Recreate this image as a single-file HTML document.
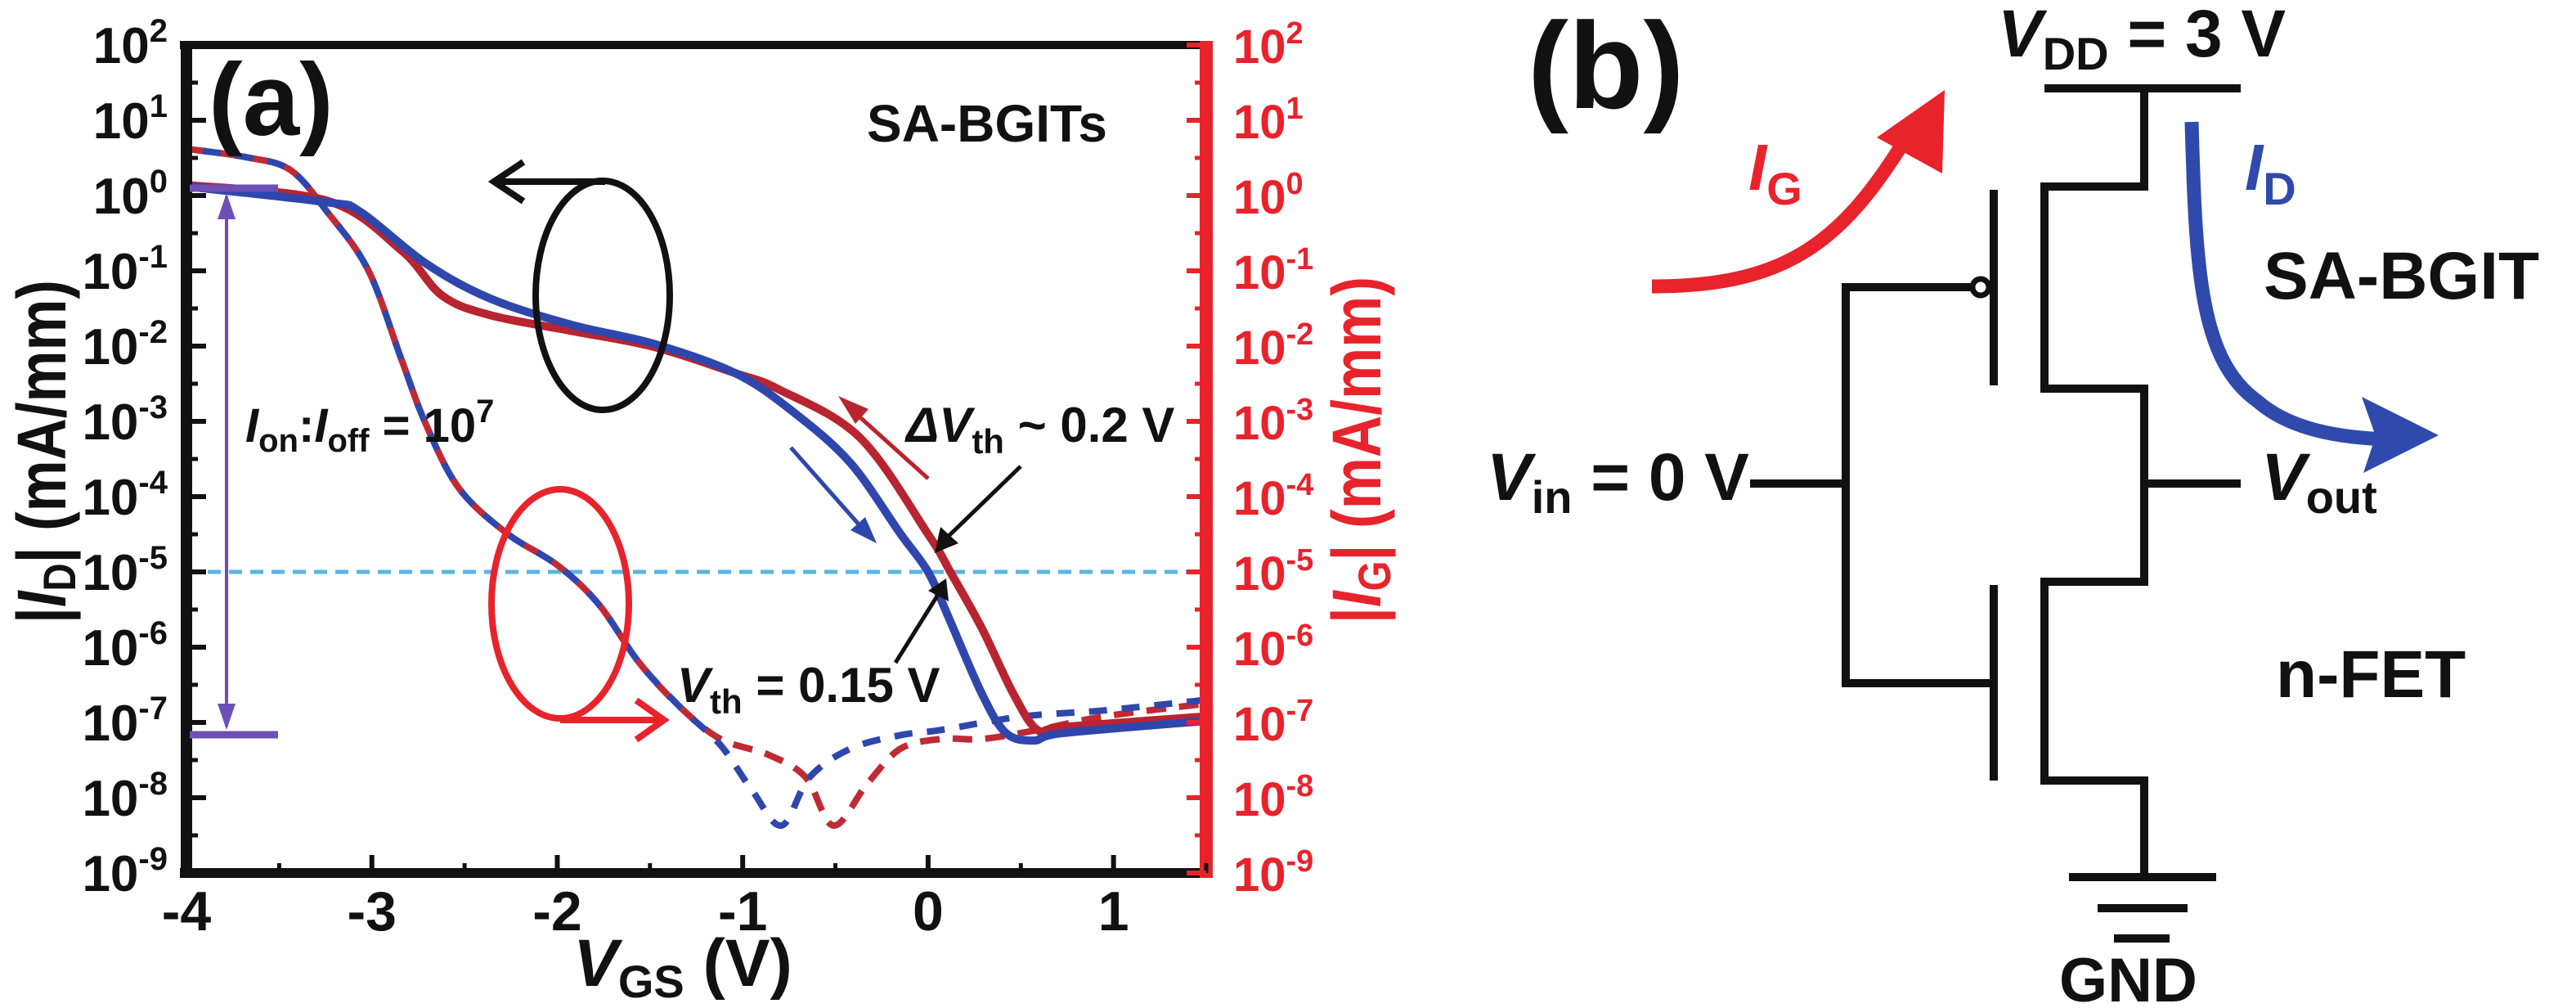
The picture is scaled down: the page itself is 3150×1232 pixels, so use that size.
<!DOCTYPE html>
<html><head><meta charset="utf-8"><style>
html,body{margin:0;padding:0;background:#fff;}
svg{display:block;font-family:"Liberation Sans",sans-serif;font-weight:bold;}
</style></head><body>
<svg id="fig" width="3150" height="1232" viewBox="0 0 3150 1232" xmlns="http://www.w3.org/2000/svg">
<g id="panelA"></g>
<g id="panelB" stroke="#111" stroke-width="10" fill="none">
  <text x="1868" y="132" font-size="150" fill="#111" stroke="none">(b)</text>
  <line x1="2500" y1="108" x2="2740" y2="108"/>
  <polyline points="2622,108 2622,228 2500,228 2500,475 2622,475 2622,711 2500,711 2500,954 2622,954 2622,1072"/>
  <line x1="2530" y1="1072" x2="2710" y2="1072"/>
  <line x1="2565" y1="1110" x2="2675" y2="1110"/>
  <line x1="2585" y1="1147" x2="2653" y2="1147"/>
  <line x1="2438" y1="232" x2="2438" y2="471"/>
  <line x1="2438" y1="715" x2="2438" y2="954"/>
  <polyline points="2410,351 2257,351 2257,835 2438,835"/>
  <circle cx="2422" cy="351" r="10" stroke-width="7"/>
  <line x1="2140" y1="591" x2="2257" y2="591"/>
  <line x1="2622" y1="591" x2="2740" y2="591"/>
  <path d="M2020,350 C2180,350 2250,300 2330,170" stroke="#e8232b" stroke-width="17"/>
  <polygon points="2378,110 2295,168 2375,212" fill="#e8232b" stroke="none"/>
  <path d="M2680,149 C2685,330 2690,440 2760,490 C2800,525 2860,535 2920,537" stroke="#2f4aac" stroke-width="17"/>
  <polygon points="2982,532 2888,485 2905,533 2890,578" fill="#2f4aac" stroke="none"/>
  <g stroke="none" fill="#111">
    <text x="2443" y="69" font-size="82"><tspan font-style="italic">V</tspan><tspan font-size="56" dy="16">DD</tspan><tspan dy="-16"> = 3 V</tspan></text>
    <text x="1818" y="611" font-size="82"><tspan font-style="italic">V</tspan><tspan font-size="56" dy="16">in</tspan><tspan dy="-16"> = 0 V</tspan></text>
    <text x="2765" y="611" font-size="82"><tspan font-style="italic">V</tspan><tspan font-size="56" dy="16">out</tspan></text>
    <text x="2768" y="365" font-size="82">SA-BGIT</text>
    <text x="2783" y="852" font-size="82">n-FET</text>
    <text x="2518" y="1224" font-size="76">GND</text>
    <text x="2138" y="232" font-size="80" fill="#e8232b"><tspan font-style="italic">I</tspan><tspan font-size="56" dy="18">G</tspan></text>
    <text x="2745" y="232" font-size="80" fill="#2f4aac"><tspan font-style="italic">I</tspan><tspan font-size="56" dy="18">D</tspan></text>
  </g>
</g>
</svg>
<script>
// ---- chart data ----
const vBlueSolid = [-4,-3.24,-3.06,-2.71,-2.36,-1.92,-1.48,-1.04,-0.73,-0.42,-0.15,0,0.11,0.29,0.42,0.57,0.73,1.5];
const logBlueSolid = [0.12,-0.09,-0.22,-0.9,-1.37,-1.72,-1.97,-2.36,-2.87,-3.55,-4.49,-5.0,-5.6,-6.62,-7.14,-7.24,-7.14,-6.98];
const vRedSolid = [-4,-3.24,-2.84,-2.62,-2.36,-1.92,-1.48,-1.04,-0.81,-0.37,0,0.12,0.29,0.46,0.59,0.73,1.5];
const logRedSolid = [0.14,-0.07,-0.73,-1.33,-1.59,-1.8,-2.01,-2.36,-2.57,-3.21,-4.5,-5.0,-5.75,-6.62,-7.1,-7.06,-6.92];
const vBlueDash = [-4,-3.68,-3.44,-3.24,-3.02,-2.84,-2.71,-2.53,-2.27,-2.0,-1.78,-1.56,-1.34,-1.12,-0.95,-0.79,-0.64,-0.42,-0.15,0.07,0.51,0.95,1.5];
const logBlueDash = [0.62,0.51,0.34,-0.22,-0.99,-2.18,-3.03,-3.89,-4.49,-4.91,-5.42,-6.2,-6.79,-7.3,-7.9,-8.37,-7.73,-7.35,-7.17,-7.1,-6.92,-6.84,-6.7];
const vRedDash = [-4,-3.68,-3.44,-3.24,-3.02,-2.84,-2.71,-2.53,-2.27,-2.0,-1.78,-1.56,-1.34,-1.12,-0.86,-0.66,-0.51,-0.33,-0.15,0.07,0.29,0.59,0.95,1.5];
const logRedDash = [0.62,0.51,0.34,-0.22,-0.99,-2.18,-3.03,-3.89,-4.49,-4.91,-5.42,-6.2,-6.79,-7.22,-7.43,-7.73,-8.37,-7.82,-7.35,-7.22,-7.22,-7.1,-6.92,-6.75];
const xTicks = [-4,-3,-2,-1,0,1];
const yDecades = [2,1,0,-1,-2,-3,-4,-5,-6,-7,-8,-9];
// ---- axes ----
const X0=228, X1=1475, Y0=55, Y1=1067, XMIN=-4, XMAX=1.5, LMAX=2, LMIN=-9;
function sx(v){return X0+(v-XMIN)/(XMAX-XMIN)*(X1-X0);}
function sy(l){return Y0+(LMAX-l)/(LMAX-LMIN)*(Y1-Y0);}
const NS="http://www.w3.org/2000/svg";
const g=document.getElementById('panelA');
function mk(tag,attrs,parent){const e=document.createElementNS(NS,tag);for(const k in attrs)e.setAttribute(k,attrs[k]);(parent||g).appendChild(e);return e;}
function smooth(vs,ls){const p=vs.map((v,i)=>[sx(v),sy(ls[i])]);let d='M'+p[0][0]+','+p[0][1];
 for(let i=0;i<p.length-1;i++){const p0=p[Math.max(0,i-1)],p1=p[i],p2=p[i+1],p3=p[Math.min(p.length-1,i+2)];
 const c1=[p1[0]+(p2[0]-p0[0])/6,p1[1]+(p2[1]-p0[1])/6],c2=[p2[0]-(p3[0]-p1[0])/6,p2[1]-(p3[1]-p1[1])/6];
 d+=' C'+c1[0].toFixed(1)+','+c1[1].toFixed(1)+' '+c2[0].toFixed(1)+','+c2[1].toFixed(1)+' '+p2[0].toFixed(1)+','+p2[1].toFixed(1);}return d;}
let e=mk('line',{x1:X0,x2:X1,y1:sy(-5),y2:sy(-5),stroke:'#5ab4e6','stroke-width':5,'stroke-dasharray':'16 10'});


e=mk('path',{d:smooth(vRedDash,logRedDash),fill:'none',stroke:'#c02a35','stroke-width':8,'stroke-dasharray':'24 16'});


e=mk('path',{d:smooth(vBlueDash,logBlueDash),fill:'none',stroke:'#2f46ad','stroke-width':8,'stroke-dasharray':'22 18','stroke-dashoffset':20});


e=mk('path',{d:smooth(vRedSolid,logRedSolid),fill:'none',stroke:'#b8242f','stroke-width':10});


e=mk('path',{d:smooth(vBlueSolid,logBlueSolid),fill:'none',stroke:'#2f46ad','stroke-width':10});


e=mk('line',{x1:X0-8,x2:X1,y1:Y0,y2:Y0,stroke:'#111','stroke-width':10});


e=mk('line',{x1:X0-8,x2:X1,y1:Y1,y2:Y1,stroke:'#111','stroke-width':12});


e=mk('line',{x1:X0,x2:X0,y1:Y0-5,y2:Y1+6,stroke:'#111','stroke-width':14});


e=mk('line',{x1:X1,x2:X1,y1:Y0-5,y2:Y1+6,stroke:'#e8232b','stroke-width':16});


xTicks.forEach(v=>{
 let t=mk('line',{x1:sx(v),x2:sx(v),y1:Y1,y2:Y1-22,stroke:'#111','stroke-width':6});
 
 
 t=mk('line',{x1:sx(v+0.5),x2:sx(v+0.5),y1:Y1,y2:Y1-12,stroke:'#111','stroke-width':5});
 
 
 const l=mk('text',{x:sx(v),y:1137,'font-size':68,'text-anchor':'middle',fill:'#111'});
 l.textContent=String(v);
 
 
});
yDecades.forEach(d=>{
 let t=mk('line',{x1:X0,x2:X0+24,y1:sy(d),y2:sy(d),stroke:'#111','stroke-width':6});
 
 
 t=mk('line',{x1:X1,x2:X1-24,y1:sy(d),y2:sy(d),stroke:'#e8232b','stroke-width':6});
 
 
 if(d>LMIN){const m=sy(d-0.5);
  t=mk('line',{x1:X0,x2:X0+14,y1:m,y2:m,stroke:'#111','stroke-width':5});
  
  
  t=mk('line',{x1:X1,x2:X1-14,y1:m,y2:m,stroke:'#e8232b','stroke-width':5});
  
  }
 const y=sy(d)+22;
 let l=mk('text',{x:205,y:y,'font-size':62,'text-anchor':'end',fill:'#111'});
 l.innerHTML='10<tspan font-size="40" dy="-26">'+d+'</tspan>';
 
 
 l=mk('text',{x:1508,y:y,'font-size':58,fill:'#e8232b'});
 l.innerHTML='10<tspan font-size="38" dy="-24">'+d+'</tspan>';
 
 
});
</script>
<script>
const A=document.getElementById('panelA');
A.insertAdjacentHTML('beforeend',`
<text x="835" y="1205" font-size="82" text-anchor="middle" fill="#111"><tspan font-style="italic">V</tspan><tspan font-size="56" dy="14">GS</tspan><tspan dy="-14"> (V)</tspan></text>
<text transform="translate(80,762) rotate(-90)" font-size="84" fill="#111" textLength="420" lengthAdjust="spacingAndGlyphs">|<tspan font-style="italic">I</tspan><tspan font-size="56" dy="12">D</tspan><tspan dy="-12">| (mA/mm)</tspan></text>
<text transform="translate(1688,762) rotate(-90)" font-size="84" fill="#e8232b" textLength="424" lengthAdjust="spacingAndGlyphs">|<tspan font-style="italic">I</tspan><tspan font-size="56" dy="12">G</tspan><tspan dy="-12">| (mA/mm)</tspan></text>
<text x="255" y="165" font-size="125" fill="#111">(a)</text>
<text x="1060" y="173" font-size="64" fill="#111">SA-BGITs</text>
<text x="300" y="540" font-size="58" fill="#111"><tspan font-style="italic">I</tspan><tspan font-size="40" dy="12">on</tspan><tspan dy="-12">:</tspan><tspan font-style="italic">I</tspan><tspan font-size="40" dy="12">off</tspan><tspan dy="-12"> = 10</tspan><tspan font-size="40" dy="-24">7</tspan></text>
<text x="1108" y="540" font-size="60" fill="#111"><tspan font-style="italic">ΔV</tspan><tspan font-size="42" dy="14">th</tspan><tspan dy="-14"> ~ 0.2 V</tspan></text>
<text x="828" y="858" font-size="60" fill="#111"><tspan font-style="italic">V</tspan><tspan font-size="42" dy="14">th</tspan><tspan dy="-14"> = 0.15 V</tspan></text>
<ellipse cx="737" cy="361" rx="82" ry="140" fill="none" stroke="#111" stroke-width="8"/>
<line x1="740" y1="222" x2="610" y2="222" stroke="#111" stroke-width="8"/>
<polyline points="640,198 604,222 640,246" fill="none" stroke="#111" stroke-width="8"/>
<ellipse cx="685" cy="738" rx="84" ry="140" fill="none" stroke="#e8232b" stroke-width="8"/>
<line x1="685" y1="880" x2="808" y2="880" stroke="#e8232b" stroke-width="8"/>
<polyline points="778,856 812,880 778,904" fill="none" stroke="#e8232b" stroke-width="8"/>
<line x1="232" y1="230" x2="340" y2="230" stroke="#6e4fb5" stroke-width="9"/>
<line x1="232" y1="898" x2="340" y2="898" stroke="#6e4fb5" stroke-width="9"/>
<line x1="277" y1="240" x2="277" y2="888" stroke="#6e4fb5" stroke-width="4"/>
<polygon points="277,236 266,268 288,268" fill="#6e4fb5"/>
<polygon points="277,892 266,860 288,860" fill="#6e4fb5"/>
<line x1="967" y1="547" x2="1060" y2="652" stroke="#2f46ad" stroke-width="5"/>
<polygon points="1072,664 1040,648 1058,632" fill="#2f46ad"/>
<line x1="1135" y1="585" x2="1035" y2="495" stroke="#b8242f" stroke-width="5"/>
<polygon points="1025,484 1062,500 1046,518" fill="#b8242f"/>
<line x1="1248" y1="570" x2="1155" y2="660" stroke="#111" stroke-width="5"/>
<polygon points="1143,676 1150,644 1172,664" fill="#111"/>
<line x1="1095" y1="810" x2="1150" y2="722" stroke="#111" stroke-width="5"/>
<polygon points="1157,707 1135,722 1160,735" fill="#111"/>
`);
</script>
</body></html>
